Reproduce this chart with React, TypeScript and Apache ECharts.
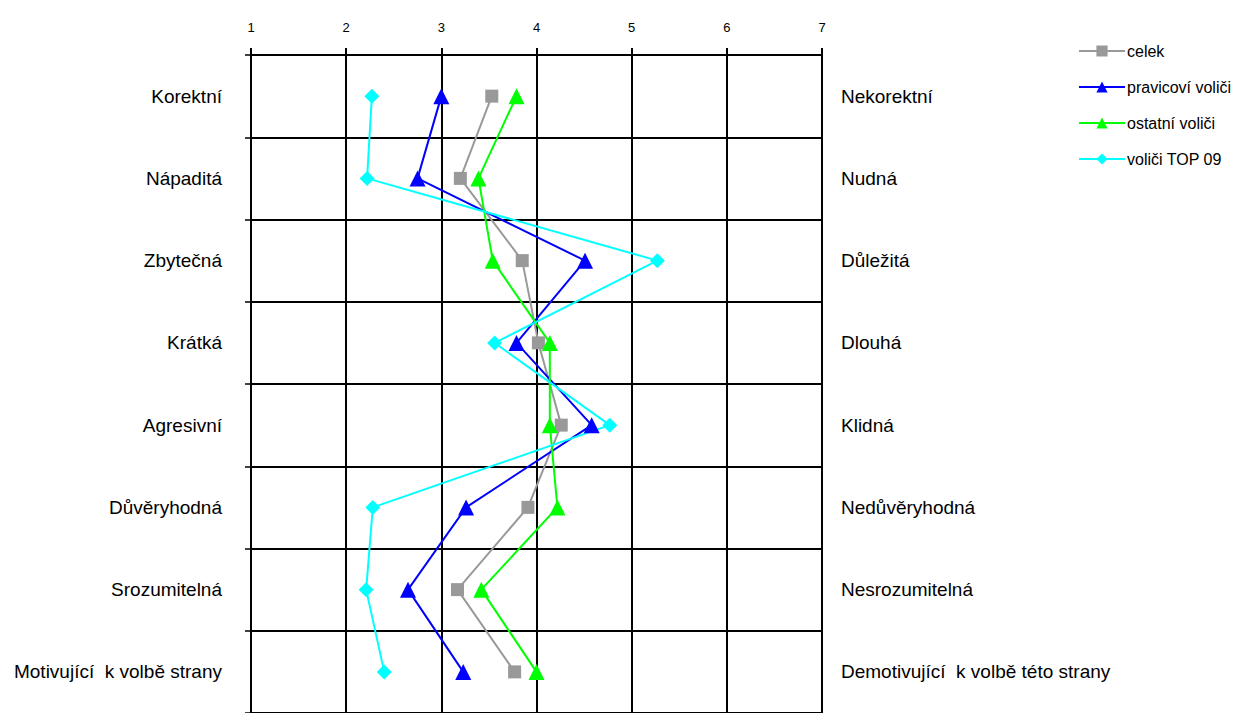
import React, { useEffect, useRef } from "react";
import * as echarts from "echarts";

const leftLabels = [
  "Korektní",
  "Nápaditá",
  "Zbytečná",
  "Krátká",
  "Agresivní",
  "Důvěryhodná",
  "Srozumitelná",
  "Motivující  k volbě strany",
];
const rightLabels = [
  "Nekorektní",
  "Nudná",
  "Důležitá",
  "Dlouhá",
  "Klidná",
  "Nedůvěryhodná",
  "Nesrozumitelná",
  "Demotivující  k volbě této strany",
];
const scaleTicks = [1, 2, 3, 4, 5, 6, 7];

const celek = [3.53, 3.2, 3.85, 4.02, 4.26, 3.91, 3.17, 3.77];
const pravicovi = [3.0, 2.75, 4.51, 3.79, 4.58, 3.26, 2.65, 3.23];
const ostatni = [3.79, 3.39, 3.54, 4.14, 4.14, 4.22, 3.42, 4.0];
const top09 = [2.27, 2.22, 5.27, 3.56, 4.77, 2.28, 2.21, 2.4];

const FONT = "Liberation Sans, Arial, sans-serif";

export default function App() {
  const ref = useRef<HTMLDivElement>(null);
  useEffect(() => {
    if (!ref.current) return;
    const chart = echarts.init(ref.current, null, { renderer: "svg" });
    const mk = (name: string, data: number[], color: string, symbol: string, size: number) => ({
      name,
      type: "line",
      data,
      yAxisIndex: 0,
      symbol,
      symbolSize: size,
      lineStyle: { color, width: 2 },
      itemStyle: { color },
      z: 5,
    });
    chart.setOption({
      animation: false,
      backgroundColor: "#fff",
      textStyle: { fontFamily: FONT },
      grid: { left: 251, top: 55, width: 571, height: 664, containLabel: false },
      xAxis: {
        type: "value",
        position: "top",
        min: scaleTicks[0],
        max: scaleTicks[scaleTicks.length - 1],
        interval: 1,
        axisLine: { show: false },
        axisTick: { show: true, length: 7, lineStyle: { color: "#000", width: 2 } },
        axisLabel: { fontSize: 13, color: "#000", margin: 21, fontFamily: FONT },
        splitLine: { show: true, lineStyle: { color: "#000", width: 2 } },
      },
      yAxis: [
        {
          type: "category",
          data: leftLabels,
          inverse: true,
          position: "left",
          axisLine: { show: false },
          axisTick: { show: true, length: 6, lineStyle: { color: "#000", width: 1.5 } },
          axisLabel: { fontSize: 19, color: "#000", margin: 29, fontFamily: FONT },
          splitLine: { show: true, lineStyle: { color: "#000", width: 2 } },
        },
        {
          type: "category",
          data: rightLabels,
          inverse: true,
          position: "right",
          axisLine: { show: false },
          axisTick: { show: false },
          axisLabel: { fontSize: 19, color: "#000", margin: 19, fontFamily: FONT },
          splitLine: { show: false },
        },
      ],
      legend: {
        orient: "vertical",
        left: 1078,
        top: 43,
        padding: 0,
        itemWidth: 46,
        itemHeight: 14,
        itemGap: 20,
        textStyle: { fontSize: 16, color: "#000", fontFamily: FONT, padding: [0, 0, 0, -3] },
        data: ["celek", "pravicoví voliči", "ostatní voliči", "voliči TOP 09"],
      },
      series: [
        mk("celek", celek, "#999999", "rect", 13),
        mk("pravicoví voliči", pravicovi, "#0000ff", "triangle", 16),
        mk("ostatní voliči", ostatni, "#00ff00", "triangle", 16),
        mk("voliči TOP 09", top09, "#00ffff", "diamond", 15),
      ],
    });
    return () => chart.dispose();
  }, []);
  return (
    <div
      ref={ref}
      style={{ position: "absolute", left: 0, top: 0, width: 1240, height: 713 }}
    />
  );
}
